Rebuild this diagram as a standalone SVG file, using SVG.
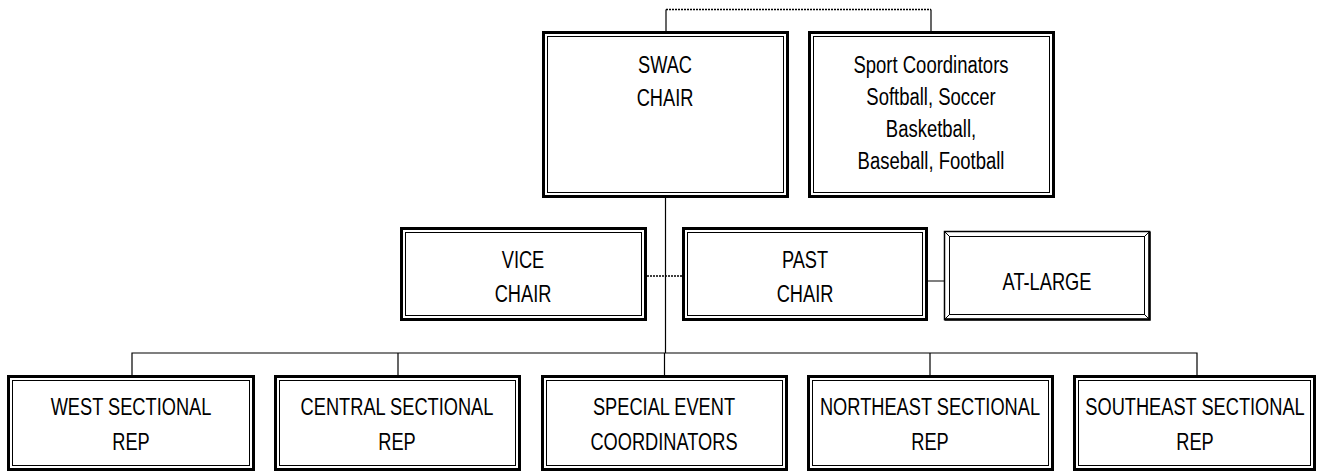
<svg xmlns="http://www.w3.org/2000/svg" width="1318" height="472" viewBox="0 0 1318 472">
<style>
.o{fill:#fff;stroke:#000;stroke-width:3}
.i{fill:none;stroke:#000;stroke-width:1}
.t{font-family:"Liberation Sans",Arial,sans-serif;font-size:24px;fill:#000;text-anchor:middle}
.c{fill:none;stroke:#000;stroke-width:1.2}
.d{fill:none;stroke:#000;stroke-width:1.5;stroke-dasharray:2 1}
</style>
<rect width="1318" height="472" fill="#fff"/>
<g id="connectors">
<path class="c" d="M666 31V9.5"/>
<path class="d" d="M666 9.5H931"/>
<path class="c" d="M931 9.5V31"/>
<path class="c" d="M665.5 198V353"/>
<path class="d" d="M647 276H682"/>
<path d="M928 281H950" stroke="#555" stroke-width="1.5" fill="none"/>
<path class="c" d="M132 375V353H1197V375M398 353V375M664.5 353V375M930 353V375"/>
</g>
<g id="swac">
<rect class="o" x="543.5" y="32.5" width="244" height="164"/>
<rect class="i" x="547.5" y="36.5" width="236" height="156"/>
<g class="t" transform="translate(665,0) scale(0.76,1)"><text x="0" y="73">SWAC</text><text x="0" y="106">CHAIR</text></g>
</g>
<g id="sport">
<rect class="o" x="809.5" y="32.5" width="244" height="164"/>
<rect class="i" x="813.5" y="36.5" width="236" height="156"/>
<g class="t" transform="translate(931,0) scale(0.77,1)"><text x="0" y="73">Sport Coordinators</text><text x="0" y="105">Softball, Soccer</text><text x="0" y="137">Basketball,</text><text x="0" y="169">Baseball, Football</text></g>
</g>
<g id="vice">
<rect class="o" x="401.5" y="228.5" width="244" height="91"/>
<rect class="i" x="405.5" y="232.5" width="236" height="83"/>
<g class="t" transform="translate(523,0) scale(0.76,1)"><text x="0" y="268">VICE</text><text x="0" y="302">CHAIR</text></g>
</g>
<g id="past">
<rect class="o" x="683.5" y="228.5" width="243" height="91"/>
<rect class="i" x="687.5" y="232.5" width="235" height="83"/>
<g class="t" transform="translate(805,0) scale(0.76,1)"><text x="0" y="268">PAST</text><text x="0" y="302">CHAIR</text></g>
</g>
<g id="atlarge">
<rect x="944.5" y="231.5" width="205" height="88" fill="#fff" stroke="#000" stroke-width="1.5"/>
<rect x="949.5" y="236.5" width="195" height="78" fill="none" stroke="#000" stroke-width="1"/>
<path d="M944.5 231.5L949.5 236.5M1149.5 231.5L1144.5 236.5M944.5 319.5L949.5 314.5M1149.5 319.5L1144.5 314.5" stroke="#000" stroke-width="1"/>
<path d="M944.5 319.5H1149.5V231.5" fill="none" stroke="#000" stroke-width="2.5"/>
<g class="t" transform="translate(1047,0) scale(0.76,1)"><text x="0" y="290">AT-LARGE</text></g>
</g>
<g id="west">
<rect class="o" x="8.5" y="376.5" width="245" height="93"/>
<rect class="i" x="12.5" y="380.5" width="237" height="85"/>
<g class="t" transform="translate(131,0) scale(0.76,1)"><text x="0" y="415">WEST SECTIONAL</text><text x="0" y="450">REP</text></g>
</g>
<g id="central">
<rect class="o" x="275.5" y="376.5" width="244" height="93"/>
<rect class="i" x="279.5" y="380.5" width="236" height="85"/>
<g class="t" transform="translate(397,0) scale(0.76,1)"><text x="0" y="415">CENTRAL SECTIONAL</text><text x="0" y="450">REP</text></g>
</g>
<g id="special">
<rect class="o" x="542.5" y="376.5" width="244" height="93"/>
<rect class="i" x="546.5" y="380.5" width="236" height="85"/>
<g class="t" transform="translate(664,0) scale(0.76,1)"><text x="0" y="415">SPECIAL EVENT</text><text x="0" y="450">COORDINATORS</text></g>
</g>
<g id="northeast">
<rect class="o" x="808.5" y="376.5" width="244" height="93"/>
<rect class="i" x="812.5" y="380.5" width="236" height="85"/>
<g class="t" transform="translate(930,0) scale(0.76,1)"><text x="0" y="415">NORTHEAST SECTIONAL</text><text x="0" y="450">REP</text></g>
</g>
<g id="southeast">
<rect class="o" x="1074.5" y="376.5" width="240" height="93"/>
<rect class="i" x="1078.5" y="380.5" width="232" height="85"/>
<g class="t" transform="translate(1195,0) scale(0.76,1)"><text x="0" y="415">SOUTHEAST SECTIONAL</text><text x="0" y="450">REP</text></g>
</g>
</svg>
